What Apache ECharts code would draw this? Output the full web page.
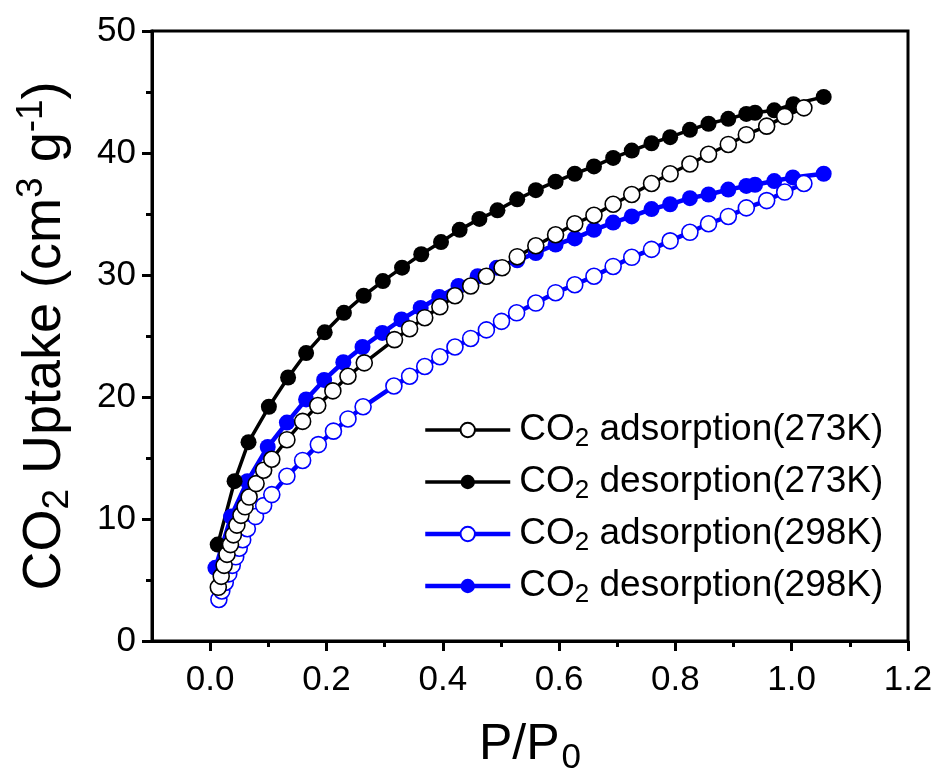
<!DOCTYPE html>
<html><head><meta charset="utf-8">
<script src="https://cdn.jsdelivr.net/npm/echarts@6/dist/echarts.min.js"></script>
<style>html,body{margin:0;padding:0;background:#fff}#c{width:941px;height:782px}</style>
</head><body><div id="c"></div>
<script>
// ---- data (P/P0, uptake cm3/g) ----
const ads273P = [0.014,0.019,0.024,0.029,0.035,0.040,0.046,0.053,0.060,0.067,0.079,0.092,0.106,0.132,0.159,0.185,0.211,0.237,0.265,0.317,0.343,0.369,0.395,0.421,0.448,0.475,0.502,0.528,0.560,0.594,0.627,0.660,0.693,0.725,0.759,0.791,0.825,0.857,0.891,0.922,0.957,0.988,1.021];
const ads273V = [4.4,5.3,6.2,7.1,7.9,8.7,9.5,10.3,11.0,11.8,12.9,14.0,14.9,16.5,18.0,19.3,20.5,21.7,22.8,24.7,25.6,26.5,27.4,28.3,29.1,29.9,30.6,31.5,32.4,33.3,34.2,34.9,35.8,36.6,37.5,38.3,39.1,39.9,40.7,41.5,42.2,43.0,43.7];
const des273P = [0.013,0.042,0.066,0.101,0.134,0.165,0.197,0.230,0.264,0.297,0.330,0.363,0.397,0.429,0.463,0.494,0.528,0.560,0.594,0.627,0.660,0.693,0.725,0.759,0.791,0.825,0.857,0.891,0.922,0.937,0.970,1.003,1.055];
const des273V = [7.9,13.1,16.3,19.2,21.6,23.6,25.3,26.9,28.3,29.5,30.6,31.7,32.7,33.7,34.6,35.3,36.2,36.95,37.65,38.3,38.9,39.6,40.2,40.8,41.3,41.9,42.4,42.8,43.2,43.3,43.5,44.0,44.6];
const ads298P = [0.015,0.020,0.026,0.032,0.038,0.044,0.050,0.056,0.064,0.078,0.092,0.106,0.132,0.159,0.186,0.212,0.237,0.263,0.316,0.343,0.369,0.395,0.421,0.448,0.475,0.501,0.527,0.560,0.594,0.627,0.660,0.693,0.725,0.759,0.791,0.825,0.857,0.891,0.922,0.957,0.988,1.021];
const ads298V = [3.4,4.1,4.8,5.5,6.2,6.9,7.6,8.3,9.2,10.2,11.1,12.0,13.5,14.8,16.1,17.2,18.2,19.2,20.9,21.7,22.5,23.3,24.1,24.8,25.5,26.2,26.9,27.7,28.55,29.2,29.9,30.7,31.45,32.1,32.8,33.5,34.2,34.8,35.5,36.1,36.8,37.5];
const des298P = [0.009,0.036,0.064,0.099,0.132,0.165,0.196,0.229,0.262,0.296,0.329,0.362,0.394,0.427,0.460,0.493,0.528,0.560,0.594,0.627,0.660,0.693,0.725,0.759,0.791,0.825,0.857,0.891,0.922,0.937,0.970,1.002,1.055];
const des298V = [6.0,10.2,13.1,15.9,17.9,19.8,21.4,22.85,24.1,25.25,26.35,27.3,28.2,29.1,29.9,30.6,31.2,31.8,32.5,33.0,33.7,34.3,34.8,35.4,35.8,36.3,36.6,37.0,37.3,37.4,37.7,38.0,38.3];

const xTicks = [0.0,0.2,0.4,0.6,0.8,1.0,1.2];
const xMinorTicks = [0.1,0.3,0.5,0.7,0.9,1.1];
const yTicks = [0,10,20,30,40,50];
const names = ['CO2 adsorption(273K)','CO2 desorption(273K)','CO2 adsorption(298K)','CO2 desorption(298K)'];

const FONT = 'Liberation Sans, Arial, sans-serif';
const BLUE = '#0000ff';
function zip(a,b){return a.map((v,i)=>[v,b[i]]);}

const chart = echarts.init(document.getElementById('c'), null, {renderer:'canvas'});

function mkSeries(name, data, color, open, lw){
  return {
    name, type:'line', data, xAxisIndex:0, yAxisIndex:0,
    symbol:'circle', symbolSize:16, showSymbol:true,
    lineStyle:{color, width:lw},
    itemStyle: open ? {color:'#fff', borderColor:color, borderWidth:1.6}
                    : {color, borderColor:color, borderWidth:0},
    emphasis:{disabled:true}, animation:false
  };
}

const legendColors = ['#000','#000',BLUE,BLUE];
const legendWidths = [3.5,3.5,4.5,4.5];

const option = {
  animation:false,
  backgroundColor:'#fff',
  grid:{left:152, right:33, top:31, bottom:141, outerBoundsMode:'none', containLabel:false,
        show:true, borderColor:'#000', borderWidth:3, backgroundColor:'transparent'},
  legend:{
    orient:'vertical', left:418, top:403,
    itemWidth:85, itemHeight:18, itemGap:8,
    data:names.map((n,i)=>({name:n, lineStyle:{color:legendColors[i], width:legendWidths[i]}})),
    selectedMode:false,
    formatter: n => '{a|CO}{s|2}{a| ' + n.slice(4) + '}',
    textStyle:{
      fontFamily:FONT, color:'#000', padding:[0,0,0,4],
      rich:{
        a:{fontFamily:FONT, fontSize:37, color:'#000', lineHeight:40},
        s:{fontFamily:FONT, fontSize:26, color:'#000', lineHeight:26, padding:[18,0,0,0]}
      }
    }
  },
  xAxis:[{
    type:'value', min:-0.1, max:1.2, position:'bottom',
    name:'{a|P/P}{s|0}', nameLocation:'middle', nameGap:76,
    nameTextStyle:{rich:{
      a:{fontFamily:FONT, fontSize:50, color:'#000', lineHeight:56},
      s:{fontFamily:FONT, fontSize:35, color:'#000', lineHeight:36, padding:[26,0,0,2]}
    }},
    axisLine:{show:true, onZero:false, lineStyle:{color:'#000', width:3}},
    axisTick:{show:true, inside:false, length:10, lineStyle:{color:'#000', width:3}, customValues:xTicks},
    axisLabel:{show:true, customValues:xTicks, margin:22, fontFamily:FONT, fontSize:35, color:'#000', formatter:v=>v.toFixed(1)},
    splitLine:{show:false}
  },{
    type:'value', min:-0.1, max:1.2, position:'bottom',
    axisLine:{show:false, onZero:false},
    axisTick:{show:true, inside:false, length:6, lineStyle:{color:'#000', width:3}, customValues:xMinorTicks},
    axisLabel:{show:false},
    splitLine:{show:false}
  }],
  yAxis:{
    type:'value', min:0, max:50, interval:10,
    name:'{a|CO}{s|2}{a| Uptake (cm}{p|3}{a| g}{p|-1}{a|)}',
    nameLocation:'middle', nameGap:78, nameRotate:90,
    nameTextStyle:{rich:{
      a:{fontFamily:FONT, fontSize:54, color:'#000', lineHeight:58},
      s:{fontFamily:FONT, fontSize:37, color:'#000', lineHeight:38, padding:[26,0,0,0]},
      p:{fontFamily:FONT, fontSize:37, color:'#000', lineHeight:38, padding:[0,0,26,0]}
    }},
    axisLine:{show:true, onZero:false, lineStyle:{color:'#000', width:3}},
    axisTick:{show:true, inside:false, length:10, lineStyle:{color:'#000', width:3}},
    minorTick:{show:true, splitNumber:2, length:6, lineStyle:{color:'#000', width:3}},
    axisLabel:{margin:16, fontFamily:FONT, fontSize:35, color:'#000', customValues:yTicks},
    splitLine:{show:false}, minorSplitLine:{show:false}
  },
  series:[
    mkSeries(names[3], zip(des298P, des298V), BLUE, false, 4.5),
    mkSeries(names[1], zip(des273P, des273V), '#000', false, 3.5),
    mkSeries(names[2], zip(ads298P, ads298V), BLUE, true, 4.5),
    mkSeries(names[0], zip(ads273P, ads273V), '#000', true, 3.5)
  ]
};
chart.setOption(option);
</script></body></html>
